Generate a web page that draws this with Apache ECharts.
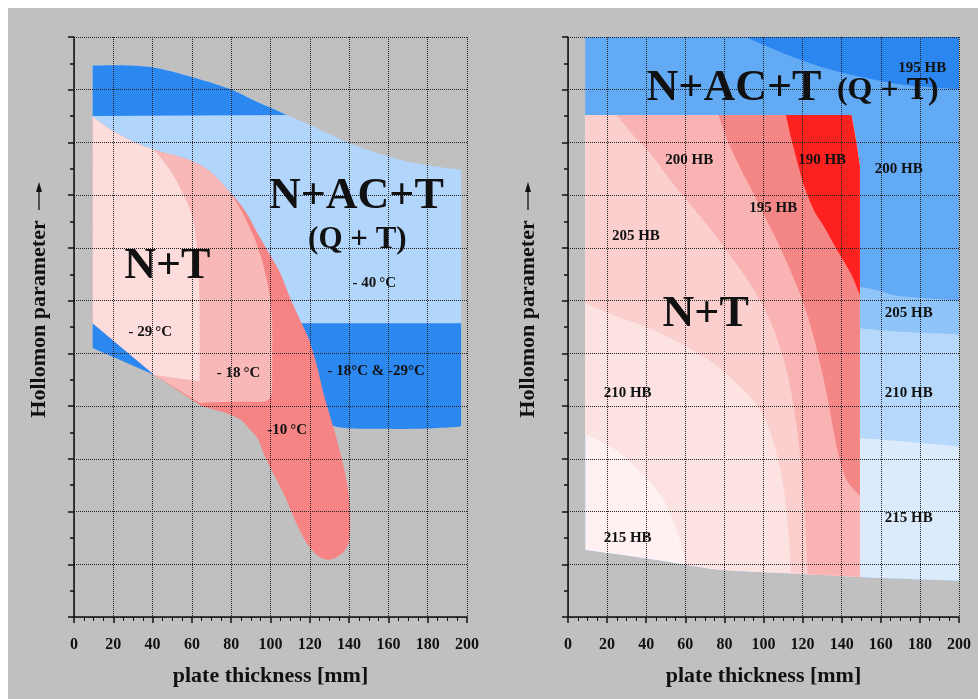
<!DOCTYPE html>
<html>
<head>
<meta charset="utf-8">
<style>
html,body{margin:0;padding:0;background:#fff;}
#panel{position:absolute;left:8px;top:8px;width:970px;height:691px;background:#c0c0c0;}
#chart{position:absolute;left:0;top:0;width:978px;height:699px;}
</style>
<script src="https://cdn.jsdelivr.net/npm/echarts@6.0.0/dist/echarts.min.js"></script>
</head>
<body>
<div id="panel"></div>
<div id="chart"></div>
<script>
const FONT = '"Liberation Serif", "Times New Roman", serif';

// axis ticks: plate thickness in mm, Hollomon parameter in relative units
const thicknessTicks = [0, 20, 40, 60, 80, 100, 120, 140, 160, 180, 200];
const hollomonRange = [0, 11];

// ---------- left panel: toughness zones (test temperature) ----------
// each region = list of boundary runs [thickness, hollomon]; runs are smoothed, joined straight
const leftBlueTopEdge = [[9.5,10.46],[27,10.46],[42,10.41],[61,10.23],[79.5,10.01],[91.4,9.80],[108.4,9.52],[123.7,9.27],[140.6,8.98],[157.6,8.76],[174.5,8.60],[197,8.48]];
const leftLightBlue = [leftBlueTopEdge, [[197,5.5]], [[9.5,5.5]]];
const leftTopBand = [leftBlueTopEdge.slice(0, 7), [[9.5,9.5]]];
const leftLowBand = [
  [[9.5,5.57],[197,5.57]],
  [[197,3.62],[193,3.6],[175,3.57],[155,3.57],[139,3.58],[130,3.64],[126,3.7]],
  [[110,3.85],[64,4.3]],
  [[40.9,4.59]],
  [[9.5,5.10]]
];
const leftPink10 = [
  [[9.5,9.49],[20.5,9.20],[34.1,8.95],[44.3,8.82],[56.1,8.70],[68,8.48],[78.2,8.10],[86.7,7.72],[93.4,7.28],[100.3,6.83],[105,6.52],[110,6.05],[114,5.72],[118,5.4],[120.3,5.19],[123.7,4.75],[127,4.24],[130.4,3.80],[133.8,3.36],[137.2,2.85],[139.7,2.35],[140.6,1.71],[138.9,1.33],[133,1.12],[126.4,1.11],[119.7,1.33],[114,1.71],[106.5,2.35],[97.9,2.98],[93.8,3.36],[89.7,3.55],[84.7,3.74],[77,3.87],[65.9,3.99],[62.9,4.05]],
  [[40.9,4.59]],
  [[9.5,5.57]]
];
const leftPink18 = [
  [[39.2,8.89],[44.3,8.82],[56.1,8.70],[68,8.48],[78.2,8.10],[84,7.78],[89,7.42],[93.2,7.05],[96.8,6.6],[99.6,6.1],[100.8,5.6],[100.9,5.0],[100.8,4.4],[100.3,4.2],[98.5,4.11],[96,4.08],[91,4.08],[80,4.08],[70,4.07],[64,4.06]],
  [[40.9,4.59]]
];
const leftPink29 = [
  [[9.5,9.49],[20.5,9.20],[34.1,8.95],[39.2,8.89]],
  [[41.8,8.82],[46,8.62],[51,8.35],[56.1,7.97],[60.4,7.59],[62.1,7.15],[63.3,6.64],[63.8,6.01],[63.9,5.4],[63.9,4.47]],
  [[40.9,4.59]],
  [[9.5,5.57]]
];
const leftLabels = [
  [143.7, 7.98, 'N+AC+T', 44],
  [144.2, 7.15, '(Q + T)', 31],
  [47.5, 6.64, 'N+T', 44],
  [152.8, 6.33, '- 40\u2009°C', 15],
  [38.8, 5.40, '- 29\u2009°C', 15],
  [83.7, 4.63, '- 18\u2009°C', 15],
  [153.8, 4.67, '- 18°C & -29°C', 15],
  [108.5, 3.55, '-10\u2009°C', 15]
];

// ---------- right panel: hardness zones (HB) ----------
const rightBlueBase = [[[8.8,11],[200,11]], [[200,0.69],[149.3,0.76],[113,0.83],[79,0.89],[60.2,0.99],[39.8,1.11],[8.8,1.27]]];
const rightBlue195 = [[[90.9,11],[104.5,10.78],[121.6,10.53],[138.6,10.34],[155.6,10.20],[172.6,10.09],[200,10.01]], [[200,11]]];
const rightBlue205 = [[[148,6.27],[158,6.2],[166,6.11],[175,6.07],[200,6.0]], [[200,0.69],[175,0.72],[148,0.76]]];
const rightBlue210 = [[[148,5.48],[170,5.41],[200,5.36]], [[200,0.69],[175,0.72],[148,0.76]]];
const rightBlue215 = [[[148,3.40],[175,3.32],[200,3.23]], [[200,0.69],[175,0.72],[148,0.76]]];

const pinkEdge215 = [[8.8,3.48],[25,3.15],[39,2.68],[48.5,2.25],[55,1.7],[58.5,1.3],[60.2,0.99]];
const pinkEdge210 = [[8.8,5.95],[23.5,5.72],[40,5.5],[57.4,5.19],[74.4,4.81],[86.3,4.43],[96,4.05],[102.5,3.6],[107,3.05],[110.5,2.4],[112.5,1.7],[113.5,1.2],[114,0.83]];
const pinkEdge205 = [[25,9.52],[33,9.15],[42,8.8],[52,8.3],[62,7.85],[72,7.4],[80,7.0],[88,6.6],[96,6.15],[103,5.65],[109,5.05],[113.5,4.4],[117,3.6],[119.5,2.8],[121,2.0],[122,1.3],[122.5,0.81]];
const pinkEdge200 = [[77,9.52],[82,9.0],[89,8.45],[96,7.95],[102,7.5],[108,7.05],[114,6.55],[120,6.0],[125,5.4],[129,4.8],[132.5,4.2],[135.5,3.6],[138.5,3.05],[142.5,2.6],[149.3,2.3]];
const pinkEdge195 = [[111.5,9.52],[114,9.1],[117.5,8.6],[121,8.15],[126,7.7],[131,7.4],[137,7.0],[141,6.75],[145.5,6.45],[149.3,6.1]];

const rightPink215 = [[[8.8,9.52],[145,9.52]], [[147.6,8.98]], [[149.3,8.54]], [[149.3,0.76]], [[113,0.83],[79,0.89],[60.2,0.99],[39.8,1.11],[8.8,1.27]]];
const rightPink210 = [pinkEdge215, [[79,0.89],[113,0.83],[149.3,0.76]], [[149.3,8.54]], [[147.6,8.98]], [[145,9.52]], [[8.8,9.52]]];
const rightPink205 = [pinkEdge210, [[149.3,0.76]], [[149.3,8.54]], [[147.6,8.98]], [[145,9.52]], [[8.8,9.52]]];
const rightPink200 = [pinkEdge205, [[149.3,0.76]], [[149.3,8.54]], [[147.6,8.98]], [[145,9.52]]];
const rightPink195 = [pinkEdge200, [[149.3,8.54]], [[147.6,8.98]], [[145,9.52]]];
const rightPink190 = [pinkEdge195, [[149.3,8.54]], [[147.6,8.98]], [[145,9.52]]];

const rightLabels = [
  [84.9, 10.03, 'N+AC+T', 44],
  [163.6, 9.99, '(Q + T)', 32],
  [181.2, 10.41, '195 HB', 15],
  [62, 8.67, '200 HB', 15],
  [130, 8.67, '190 HB', 15],
  [169.2, 8.49, '200 HB', 15],
  [105, 7.75, '195 HB', 15],
  [34.7, 7.23, '205 HB', 15],
  [70.4, 5.73, 'N+T', 44],
  [174.3, 5.76, '205 HB', 15],
  [30.5, 4.25, '210 HB', 15],
  [174.3, 4.25, '210 HB', 15],
  [30.5, 1.50, '215 HB', 15],
  [174.3, 1.88, '215 HB', 15]
];

// Catmull-Rom sampling of a run of pixel points
function smoothRun(pts) {
  if (pts.length < 3) return pts.slice();
  const out = [pts[0]];
  for (let i = 0; i < pts.length - 1; i++) {
    const p0 = pts[i - 1] || pts[i], p1 = pts[i], p2 = pts[i + 1], p3 = pts[i + 2] || pts[i + 1];
    for (let s = 1; s <= 10; s++) {
      const t = s / 10, t2 = t * t, t3 = t2 * t;
      out.push([0, 1].map(k => 0.5 * (2 * p1[k] + (-p0[k] + p2[k]) * t +
        (2 * p0[k] - 5 * p1[k] + 4 * p2[k] - p3[k]) * t2 +
        (-p0[k] + 3 * p1[k] - 3 * p2[k] + p3[k]) * t3)));
    }
  }
  return out;
}

function regionSeries(axisIdx, runs, color) {
  return {
    type: 'custom', xAxisIndex: axisIdx, yAxisIndex: axisIdx, silent: true, z: 2,
    data: [runs[0][0]],
    renderItem: (params, api) => {
      let pts = [];
      runs.forEach(run => { pts = pts.concat(smoothRun(run.map(p => api.coord(p)))); });
      return { type: 'polygon', shape: { points: pts }, style: { fill: color } };
    }
  };
}

function labelSeries(axisIdx, labels) {
  return {
    type: 'custom', xAxisIndex: axisIdx, yAxisIndex: axisIdx, silent: true, z: 6,
    data: labels.map(l => [l[0], l[1]]),
    renderItem: (params, api) => {
      const l = labels[params.dataIndex];
      const p = api.coord([l[0], l[1]]);
      return {
        type: 'text', x: p[0], y: p[1],
        style: { text: l[2], font: 'bold ' + l[3] + 'px ' + FONT, fill: '#111',
                 align: 'center', verticalAlign: 'middle' }
      };
    }
  };
}

function xAxisFor(gridIndex) {
  return {
    type: 'value', gridIndex, min: thicknessTicks[0], max: thicknessTicks[thicknessTicks.length - 1],
    interval: 20, z: 5,
    name: 'plate thickness [mm]', nameLocation: 'middle', nameGap: 48,
    nameTextStyle: { fontFamily: FONT, fontWeight: 'bold', fontSize: 22, color: '#111' },
    axisLine: { show: true, onZero: false, lineStyle: { color: '#111', width: 1.5 } },
    axisTick: { show: true, length: 6, lineStyle: { color: '#111', width: 1.5 } },
    minorTick: { show: true, splitNumber: 4, length: 4, lineStyle: { color: '#111', width: 1 } },
    axisLabel: { fontFamily: FONT, fontWeight: 'bold', fontSize: 16, color: '#111', margin: 20,
                 formatter: v => thicknessTicks.includes(v) ? String(v) : '' },
    splitLine: { show: true, lineStyle: { color: '#222', type: [1, 1], width: 1 } }
  };
}
function yAxisFor(gridIndex) {
  return {
    type: 'value', gridIndex, min: hollomonRange[0], max: hollomonRange[1], interval: 1, z: 5,
    axisLine: { show: true, onZero: false, lineStyle: { color: '#111', width: 1.5 } },
    axisTick: { show: true, length: 6, lineStyle: { color: '#111', width: 1.5 } },
    minorTick: { show: true, splitNumber: 2, length: 4, lineStyle: { color: '#111', width: 1.5 } },
    axisLabel: { show: false },
    splitLine: { show: true, lineStyle: { color: '#222', type: [1, 1], width: 1 } }
  };
}

// vertical axis title with its upward arrow
function yTitle(cx) {
  return [
    { type: 'text', x: cx, y: 319, rotation: Math.PI / 2,
      style: { text: 'Hollomon parameter', font: 'bold 22px ' + FONT, fill: '#111', align: 'center', verticalAlign: 'middle' } },
    { type: 'line', shape: { x1: cx, y1: 210, x2: cx, y2: 190 }, style: { stroke: '#111', lineWidth: 1.3 } },
    { type: 'polygon', shape: { points: [[cx, 182], [cx - 3, 192], [cx + 3, 192]] }, style: { fill: '#111' } }
  ];
}

const chart = echarts.init(document.getElementById('chart'), null, { renderer: 'canvas' });
chart.setOption({
  animation: false,
  backgroundColor: 'transparent',
  grid: [
    { left: 74, top: 37, width: 393, height: 580 },
    { left: 568, top: 37, width: 391, height: 580 }
  ],
  xAxis: [xAxisFor(0), xAxisFor(1)],
  yAxis: [yAxisFor(0), yAxisFor(1)],
  graphic: yTitle(39).concat(yTitle(528)),
  series: [
    regionSeries(0, leftLightBlue, '#b1d5fb'),
    regionSeries(0, leftTopBand, '#2b88f0'),
    regionSeries(0, leftLowBand, '#2b88f0'),
    regionSeries(0, leftPink10, '#f78484'),
    regionSeries(0, leftPink18, '#f9b8b8'),
    regionSeries(0, leftPink29, '#fddcdc'),
    labelSeries(0, leftLabels),

    regionSeries(1, rightBlueBase, '#63aaf5'),
    regionSeries(1, rightBlue195, '#2b87ef'),
    regionSeries(1, rightBlue205, '#8fc4f8'),
    regionSeries(1, rightBlue210, '#b6d8fa'),
    regionSeries(1, rightBlue215, '#dbebfc'),
    regionSeries(1, rightPink215, '#fff1f1'),
    regionSeries(1, rightPink210, '#fde2e2'),
    regionSeries(1, rightPink205, '#fccfcf'),
    regionSeries(1, rightPink200, '#f9b3b3'),
    regionSeries(1, rightPink195, '#f58686'),
    regionSeries(1, rightPink190, '#ff2020'),
    labelSeries(1, rightLabels)
  ]
});
</script>
</body>
</html>
